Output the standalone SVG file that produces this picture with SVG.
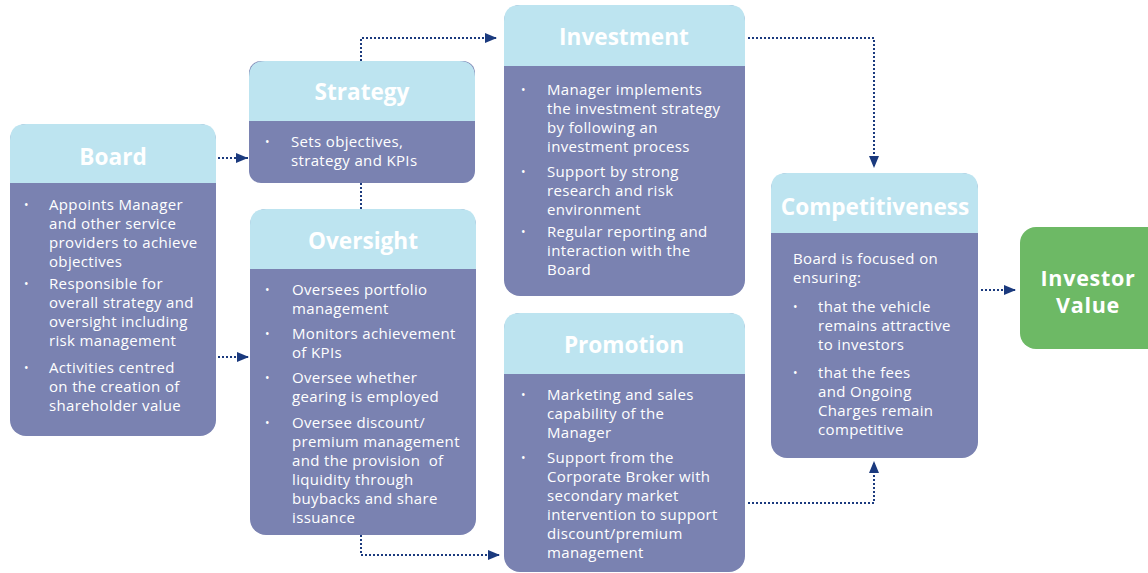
<svg xmlns="http://www.w3.org/2000/svg" width="1148" height="573" viewBox="0 0 1148 573">
<style>
.body{fill:#7A82B1}
.head{fill:#BDE4F0}
.title{font-family:"Open Sans","Noto Sans",sans-serif;font-weight:bold;font-size:22.6px;fill:#fff;text-anchor:middle}
.t{font-family:"Open Sans","Noto Sans",sans-serif;font-size:15px;letter-spacing:0.35px;fill:#fff}
.b{font-family:"Open Sans","Noto Sans",sans-serif;font-size:12px;fill:#fff}
.c{fill:none;stroke:#1B3A7E;stroke-width:2;stroke-dasharray:2 2}
.iv{font-family:"Open Sans","Noto Sans",sans-serif;font-weight:bold;font-size:21.5px;letter-spacing:0.7px;fill:#fff;text-anchor:middle}
</style>
<defs>
<marker id="ah" viewBox="0 0 12 10" refX="12" refY="5" markerWidth="12" markerHeight="10" markerUnits="userSpaceOnUse" orient="auto">
<path d="M0,0 L12,5 L0,10 Z" fill="#1B3A7E"/>
</marker>
</defs>

<g id="connectors">
<path class="c" d="M218,158 H248" marker-end="url(#ah)"/>
<path class="c" d="M218,357 H249" marker-end="url(#ah)"/>
<path class="c" d="M361,61 V38 H497" marker-end="url(#ah)"/>
<path class="c" d="M361,183 V209"/>
<path class="c" d="M361,535 V555 H500" marker-end="url(#ah)"/>
<path class="c" d="M748,38 H874 V168" marker-end="url(#ah)"/>
<path class="c" d="M748,503 H874 V461" marker-end="url(#ah)"/>
<path class="c" d="M981,290 H1016" marker-end="url(#ah)"/>
</g>

<g id="board">
<rect class="body" x="10" y="124" width="206" height="312" rx="16"/>
<path class="head" d="M10,183 V140 Q10,124 26,124 H200 Q216,124 216,140 V183 Z"/>
<text class="title" x="113" y="165">Board</text>
<text class="b" x="24" y="209">•</text>
<text class="t" x="49" y="210">Appoints Manager</text>
<text class="t" x="49" y="229">and other service</text>
<text class="t" x="49" y="248">providers to achieve</text>
<text class="t" x="49" y="267">objectives</text>
<text class="b" x="24" y="288">•</text>
<text class="t" x="49" y="289">Responsible for</text>
<text class="t" x="49" y="308">overall strategy and</text>
<text class="t" x="49" y="327">oversight including</text>
<text class="t" x="49" y="346">risk management</text>
<text class="b" x="24" y="372">•</text>
<text class="t" x="49" y="373">Activities centred</text>
<text class="t" x="49" y="392">on the creation of</text>
<text class="t" x="49" y="411">shareholder value</text>
</g>

<g id="strategy">
<rect class="body" x="249" y="61" width="226" height="122" rx="12"/>
<path class="head" d="M249,121 V77 Q249,61 265,61 H459 Q475,61 475,77 V121 Z"/>
<text class="title" x="362" y="100">Strategy</text>
<text class="b" x="265" y="146">•</text>
<text class="t" x="291" y="147">Sets objectives,</text>
<text class="t" x="291" y="166">strategy and KPIs</text>
</g>

<g id="oversight">
<rect class="body" x="250" y="209" width="226" height="326" rx="16"/>
<path class="head" d="M250,269 V225 Q250,209 266,209 H460 Q476,209 476,225 V269 Z"/>
<text class="title" x="363" y="249">Oversight</text>
<text class="b" x="265" y="294">•</text>
<text class="t" x="292" y="295">Oversees portfolio</text>
<text class="t" x="292" y="314">management</text>
<text class="b" x="265" y="338">•</text>
<text class="t" x="292" y="339">Monitors achievement</text>
<text class="t" x="292" y="358">of KPIs</text>
<text class="b" x="265" y="382">•</text>
<text class="t" x="292" y="383">Oversee whether</text>
<text class="t" x="292" y="402">gearing is employed</text>
<text class="b" x="265" y="427">•</text>
<text class="t" x="292" y="428">Oversee discount/</text>
<text class="t" x="292" y="447">premium management</text>
<text class="t" x="292" y="466" xml:space="preserve">and the provision  of</text>
<text class="t" x="292" y="485">liquidity through</text>
<text class="t" x="292" y="504">buybacks and share</text>
<text class="t" x="292" y="523">issuance</text>
</g>

<g id="investment">
<rect class="body" x="504" y="5" width="241" height="291" rx="16"/>
<path class="head" d="M504,66 V21 Q504,5 520,5 H729 Q745,5 745,21 V66 Z"/>
<text class="title" x="624" y="45">Investment</text>
<text class="b" x="521" y="94">•</text>
<text class="t" x="547" y="95">Manager implements</text>
<text class="t" x="547" y="114">the investment strategy</text>
<text class="t" x="547" y="133">by following an</text>
<text class="t" x="547" y="152">investment process</text>
<text class="b" x="521" y="176">•</text>
<text class="t" x="547" y="177">Support by strong</text>
<text class="t" x="547" y="196">research and risk</text>
<text class="t" x="547" y="215">environment</text>
<text class="b" x="521" y="236">•</text>
<text class="t" x="547" y="237">Regular reporting and</text>
<text class="t" x="547" y="256">interaction with the</text>
<text class="t" x="547" y="275">Board</text>
</g>

<g id="promotion">
<rect class="body" x="504" y="313" width="241" height="259" rx="16"/>
<path class="head" d="M504,374 V329 Q504,313 520,313 H729 Q745,313 745,329 V374 Z"/>
<text class="title" x="624" y="353">Promotion</text>
<text class="b" x="521" y="399">•</text>
<text class="t" x="547" y="400">Marketing and sales</text>
<text class="t" x="547" y="419">capability of the</text>
<text class="t" x="547" y="438">Manager</text>
<text class="b" x="521" y="462">•</text>
<text class="t" x="547" y="463">Support from the</text>
<text class="t" x="547" y="482">Corporate Broker with</text>
<text class="t" x="547" y="501">secondary market</text>
<text class="t" x="547" y="520">intervention to support</text>
<text class="t" x="547" y="539">discount/premium</text>
<text class="t" x="547" y="558">management</text>
</g>

<g id="competitiveness">
<rect class="body" x="771" y="173" width="207" height="285" rx="16"/>
<path class="head" d="M771,233 V189 Q771,173 787,173 H962 Q978,173 978,189 V233 Z"/>
<text class="title" x="875" y="215">Competitiveness</text>
<text class="t" x="793" y="264">Board is focused on</text>
<text class="t" x="793" y="283">ensuring:</text>
<text class="b" x="793" y="311">•</text>
<text class="t" x="818" y="312">that the vehicle</text>
<text class="t" x="818" y="331">remains attractive</text>
<text class="t" x="818" y="350">to investors</text>
<text class="b" x="793" y="377">•</text>
<text class="t" x="818" y="378">that the fees</text>
<text class="t" x="818" y="397">and Ongoing</text>
<text class="t" x="818" y="416">Charges remain</text>
<text class="t" x="818" y="435">competitive</text>
</g>

<g id="investor-value">
<rect x="1020" y="227" width="145" height="122" rx="16" fill="#6DB965"/>
<text class="iv" x="1088" y="286">Investor</text>
<text class="iv" x="1088" y="313">Value</text>
</g>
</svg>
